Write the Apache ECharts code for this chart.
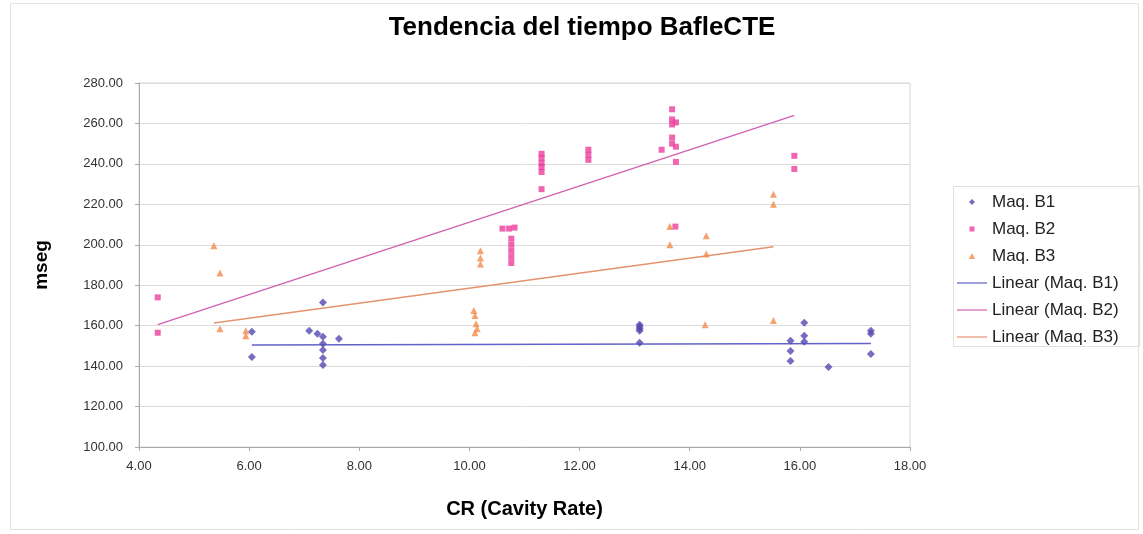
<!DOCTYPE html>
<html>
<head>
<meta charset="utf-8">
<script src="https://cdn.jsdelivr.net/npm/echarts@6/dist/echarts.min.js"></script>
<style>html,body{margin:0;padding:0;background:#fff}#c{width:1143px;height:534px}</style>
</head>
<body>
<div id="c"></div>
<script>
// ---- data ----
const b1X = [6.05,6.05, 7.09,7.24, 7.34,7.34,7.34,7.34,7.34,7.34, 7.63, 13.09,13.09,13.09,13.09,13.09, 15.83,15.83,15.83, 16.08,16.08,16.08, 16.52, 17.29,17.29,17.29];
const b1Y = [157,144.5, 157.5,156, 171.5,154.5,151,148,144,140.5, 153.5, 160.5,159.5,158.5,157.5,151.5, 152.5,147.5,142.5, 161.5,155,152, 139.5, 157.5,156,146];

const b2X = [4.34,4.34, 10.6,10.72,10.82, 10.76,10.76,10.76,10.76,10.76, 11.31,11.31,11.31,11.31,11.31,11.31, 12.16,12.16,12.16, 13.49, 13.68,13.68,13.68,13.68,13.68, 13.75,13.75,13.75, 13.74, 15.9,15.9];
const b2Y = [174,156.5, 208,208,208.5, 203,200,197,194,191, 245,243,240.5,238.5,236,227.5, 247,244.5,242, 247, 267,262,259.5,253,250, 260.5,248.5,241, 209, 244,237.5];

const b3X = [5.36, 5.47,5.47, 5.94,5.94, 10.08,10.1,10.12,10.14,10.1, 10.2,10.2,10.2, 13.64,13.64, 14.3,14.3,14.28, 15.52,15.52,15.52];
const b3Y = [199.5, 186,158.5, 157.5,155, 167.5,165,161,158.5,156.5, 197,193.5,190.5, 209,200, 204.5,195.5,160.5, 225,220,162.5];

// trendline end points (as drawn in the reference)
const trendB1X = [6.05, 17.29], trendB1Y = [150.4, 151.2];
const trendB2X = [4.34, 15.9],  trendB2Y = [160.5, 264];
const trendB3X = [5.36, 15.52], trendB3Y = [161.3, 199];

const seriesNames = ['Maq. B1','Maq. B2','Maq. B3','Linear (Maq. B1)','Linear (Maq. B2)','Linear (Maq. B3)'];
const xTicks = {min: 4, max: 18, step: 2};
const yTicks = {min: 100, max: 280, step: 20};

const pairs = (xs, ys) => xs.map((x, i) => [x, ys[i]]);

const FONT = '"Liberation Sans", Arial, sans-serif';
const cB1 = '#5549b0', cB2 = '#ec3f9f', cB3 = '#f28a4c';
const cT1 = '#6262c8', cT2 = '#d062b4', cT3 = '#e3946e';

// legend icons drawn inside a 30x6 box (the M0,0 M30,6 moves fix the box)
const BOX = 'path://M0,0M30,6';
const iconDiamond = BOX + 'M15,0L18,3L15,6L12,3Z';
const iconSquare  = BOX + 'M12.5,0.5L17.5,0.5L17.5,5.5L12.5,5.5Z';
const iconTri     = BOX + 'M15,0.3L18.2,6L11.8,6Z';
const iconLine    = BOX + 'M0,2.4L30,2.4L30,3.6L0,3.6Z';

const legendText = {fontFamily: FONT, fontSize: 17, color: '#222', lineHeight: 18};

const chart = echarts.init(document.getElementById('c'), null, {renderer: 'canvas'});
chart.setOption({
  animation: false,
  backgroundColor: '#fff',
  textStyle: {fontFamily: FONT},
  title: {
    text: 'Tendencia del tiempo BafleCTE',
    left: 577, top: 10, textAlign: 'center',
    textStyle: {fontFamily: FONT, fontWeight: 'bold', fontSize: 26, color: '#000'}
  },
  graphic: [{
    type: 'rect', shape: {x: 10.5, y: 3.5, width: 1128, height: 526},
    style: {fill: 'none', stroke: '#e2e2e2', lineWidth: 1}, silent: true, z: -1
  }, {
    type: 'rect', shape: {x: 953.5, y: 186.5, width: 186, height: 160},
    style: {fill: 'none', stroke: '#e0e0e0', lineWidth: 1}, silent: true, z: -1
  }],
  grid: {left: 139, right: 233, top: 83, bottom: 87, show: true, borderColor: '#d6d6d6', borderWidth: 1},
  xAxis: {
    type: 'value', min: xTicks.min, max: xTicks.max, interval: xTicks.step,
    name: 'CR (Cavity Rate)', nameLocation: 'middle', nameGap: 52,
    nameTextStyle: {fontFamily: FONT, fontWeight: 'bold', fontSize: 20, color: '#000'},
    axisLine: {show: true, lineStyle: {color: '#aaa'}},
    axisTick: {show: true, inside: false, length: 4, lineStyle: {color: '#aaa'}},
    axisLabel: {formatter: v => v.toFixed(2), fontFamily: FONT, fontSize: 13, color: '#333', margin: 13},
    splitLine: {show: false}
  },
  yAxis: {
    type: 'value', min: yTicks.min, max: yTicks.max, interval: yTicks.step,
    name: 'mseg', nameLocation: 'middle', nameGap: 88, nameRotate: 90,
    nameTextStyle: {fontFamily: FONT, fontWeight: 'bold', fontSize: 19, color: '#000'},
    axisLine: {show: true, lineStyle: {color: '#aaa'}},
    axisTick: {show: true, length: 4, lineStyle: {color: '#aaa'}},
    axisLabel: {formatter: v => v.toFixed(2), fontFamily: FONT, fontSize: 13, color: '#333', margin: 16},
    splitLine: {show: true, lineStyle: {color: '#dcdcdc', width: 1}}
  },
  legend: [{
    orient: 'vertical', left: 953, top: 185,
    data: [
      {name: seriesNames[0], icon: iconDiamond},
      {name: seriesNames[1], icon: iconSquare},
      {name: seriesNames[2], icon: iconTri}
    ],
    symbolKeepAspect: false,
    itemWidth: 30, itemHeight: 6, itemGap: 9,
    padding: [8, 8, 0, 4],
    textStyle: legendText
  }, {
    orient: 'vertical', left: 953, top: 266,
    data: [
      {name: seriesNames[3], icon: iconLine},
      {name: seriesNames[4], icon: iconLine},
      {name: seriesNames[5], icon: iconLine}
    ],
    symbolKeepAspect: false,
    itemWidth: 30, itemHeight: 6, itemGap: 9,
    padding: [8, 8, 8, 4],
    textStyle: legendText
  }],
  series: [
    {name: seriesNames[0], type: 'scatter', symbol: 'diamond', symbolSize: 8, itemStyle: {color: cB1}, data: pairs(b1X, b1Y), z: 5},
    {name: seriesNames[1], type: 'scatter', symbol: 'rect', symbolSize: 6, itemStyle: {color: cB2}, data: pairs(b2X, b2Y), z: 5},
    {name: seriesNames[2], type: 'scatter', symbol: 'triangle', symbolSize: 7, itemStyle: {color: cB3}, data: pairs(b3X, b3Y), z: 5},
    {name: seriesNames[3], type: 'line', symbol: 'none', lineStyle: {color: cT1, width: 1.5}, itemStyle: {color: cT1}, data: pairs(trendB1X, trendB1Y), z: 3},
    {name: seriesNames[4], type: 'line', symbol: 'none', lineStyle: {color: cT2, width: 1.5}, itemStyle: {color: cT2}, data: pairs(trendB2X, trendB2Y), z: 3},
    {name: seriesNames[5], type: 'line', symbol: 'none', lineStyle: {color: cT3, width: 1.5}, itemStyle: {color: cT3}, data: pairs(trendB3X, trendB3Y), z: 3}
  ]
});
</script>
</body>
</html>
